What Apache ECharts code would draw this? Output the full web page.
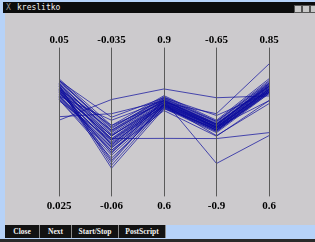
<!DOCTYPE html>
<html>
<head>
<meta charset="utf-8">
<script src="https://cdn.jsdelivr.net/npm/echarts@6/dist/echarts.min.js"></script>
<style>
  html, body { margin: 0; padding: 0; }
  body { width: 315px; height: 242px; background: #b6d2f8; position: relative; overflow: hidden; }
  .abs { position: absolute; }
  #titlebar { left: 3px; top: 2px; width: 312px; height: 11px; background: #0c0c0c; }
  #titlebar .ico { left: 3px; top: 0; color: #9a9a9a; font: 8px "DejaVu Sans Mono", monospace; line-height: 11px; }
  #titlebar .ttl { left: 14px; top: 0; color: #f0f0f0; font: 8px "DejaVu Sans Mono", monospace; line-height: 11px; }
  .wbtn { top: 3px; width: 6px; height: 6px; background: #c8c8c8; border: 1px solid #555; }
  #content { left: 5px; top: 13px; width: 310px; height: 212px; background: #cccacd; }
  #buttons { left: 5px; top: 225px; height: 13px; display: flex; }
  #buttons div { height: 13px; background: #121212; color: #f4f4f4; border-right: 1px solid #8a8a8a;
                 font: bold 7.5px "Liberation Serif", serif; line-height: 13px; text-align: center; }
  #bottomline { left: 0; top: 239px; width: 315px; height: 3px; background: #2a2a2a; }
  #chart { left: 0; top: 0; width: 315px; height: 242px; }
</style>
</head>
<body>
<div id="titlebar" class="abs">
  <div class="abs ico">X</div>
  <div class="abs ttl">kreslitko</div>
  <div class="abs wbtn" style="left:291px"></div>
  <div class="abs wbtn" style="left:299px"></div>
  <div class="abs wbtn" style="left:307px"></div>
</div>
<div id="content" class="abs"></div>
<div id="buttons" class="abs">
  <div style="width:34px">Close</div>
  <div style="width:31px">Next</div>
  <div style="width:46px">Start/Stop</div>
  <div style="width:46px">PostScript</div>
</div>
<div id="bottomline" class="abs"></div>
<div id="chart" class="abs"></div>
<script>
// axis ranges: top value = max, bottom value = min
const axisMax = [0.05, -0.035, 0.9, -0.65, 0.85];
const axisMin = [0.025, -0.06, 0.6, -0.9, 0.6];
const topLabels = ['0.05', '-0.035', '0.9', '-0.65', '0.85'];
const bottomLabels = ['0.025', '-0.06', '0.6', '-0.9', '0.6'];

// one row per polyline
const records = [
  [0.0448, -0.0481, 0.8034, -0.772, 0.798],
  [0.0446, -0.0486, 0.8013, -0.774, 0.795],
  [0.0445, -0.0489, 0.7993, -0.776, 0.793],
  [0.0443, -0.0484, 0.7973, -0.774, 0.791],
  [0.0441, -0.0493, 0.7973, -0.778, 0.790],
  [0.0440, -0.0496, 0.7953, -0.779, 0.788],
  [0.0438, -0.0491, 0.7933, -0.778, 0.786],
  [0.0436, -0.0499, 0.7933, -0.781, 0.788],
  [0.0435, -0.0503, 0.7913, -0.781, 0.785],
  [0.0433, -0.0498, 0.7893, -0.783, 0.783],
  [0.0431, -0.0506, 0.7893, -0.783, 0.785],
  [0.0430, -0.0509, 0.7872, -0.784, 0.781],
  [0.0428, -0.0504, 0.7872, -0.784, 0.780],
  [0.0426, -0.0513, 0.7852, -0.786, 0.781],
  [0.0425, -0.0516, 0.7852, -0.786, 0.778],
  [0.0423, -0.0511, 0.7832, -0.788, 0.776],
  [0.0421, -0.0519, 0.7832, -0.788, 0.778],
  [0.0419, -0.0523, 0.7812, -0.789, 0.775],
  [0.0418, -0.0518, 0.7812, -0.789, 0.773],
  [0.0416, -0.0526, 0.7792, -0.791, 0.775],
  [0.0414, -0.0531, 0.7792, -0.791, 0.776],
  [0.0413, -0.0536, 0.7772, -0.793, 0.773],
  [0.0436, -0.0540, 0.7852, -0.783, 0.783],
  [0.0431, -0.0543, 0.7872, -0.779, 0.786],
  [0.0440, -0.0514, 0.7913, -0.786, 0.780],
  [0.0428, -0.0528, 0.7953, -0.781, 0.790],
  [0.0411, -0.0506, 0.7832, -0.784, 0.778],
  [0.0378, -0.0437, 0.8170, -0.734, 0.769],
  [0.0384, -0.0461, 0.7933, -0.779, 0.785],
  [0.0435, -0.0553, 0.7772, -0.786, 0.781],
  [0.0425, -0.0503, 0.7168, -0.803, 0.707],
  [0.0419, -0.0472, 0.7933, -0.845, 0.702],
  [0.0431, -0.0481, 0.7893, -0.761, 0.823],
  [0.0428, -0.0489, 0.7933, -0.784, 0.761],
  [0.0423, -0.0498, 0.7852, -0.798, 0.756],
  [0.0445, -0.0467, 0.7993, -0.764, 0.775],
  [0.0438, -0.0548, 0.7812, -0.789, 0.778],
  [0.0418, -0.0523, 0.7732, -0.799, 0.761]
];

const chart = echarts.init(document.getElementById('chart'));

const labelFont = { fontFamily: 'Liberation Serif', fontSize: 11, fontWeight: 'bold', color: '#000' };

chart.setOption({
  animation: false,
  backgroundColor: 'transparent',
  parallel: {
    left: 59, right: 46, top: 48, bottom: 46,
    layout: 'horizontal'
  },
  parallelAxis: axisMax.map((mx, i) => ({
    dim: i,
    min: axisMin[i],
    max: mx,
    name: topLabels[i],
    nameLocation: 'end',
    nameGap: 2,
    nameTextStyle: labelFont,
    axisLine: { lineStyle: { color: '#5a5a5a', width: 1 } },
    axisTick: { show: false },
    splitLine: { show: false },
    axisLabel: {
      customValues: [axisMin[i]],
      formatter: () => bottomLabels[i],
      align: 'center',
      verticalAlign: 'top',
      margin: 0,
      padding: [5, 0, 0, 0],
      ...labelFont
    }
  })),
  series: [{
    type: 'parallel',
    silent: true,
    smooth: false,
    lineStyle: { color: '#0b0b9c', width: 1, opacity: 0.7 },
    data: records
  }]
});
</script>
</body>
</html>
